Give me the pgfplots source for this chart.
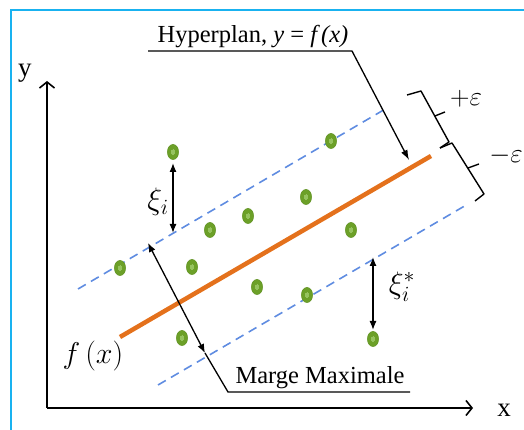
\RequirePackage{fix-cm}
\documentclass[border=0pt]{standalone}
\usepackage{fontspec}
\setmainfont{Liberation Serif}
\usepackage{pgfplots}
\pgfplotsset{compat=1.18}
\usetikzlibrary{arrows.meta}
\definecolor{frameblue}{RGB}{25,178,240}
\definecolor{dashblue}{RGB}{95,140,225}
\definecolor{hypor}{RGB}{228,113,28}
\definecolor{ptgreen}{RGB}{108,160,40}
\definecolor{ptedge}{RGB}{96,146,34}
\definecolor{ptlight}{RGB}{150,195,95}
\begin{document}
\begin{tikzpicture}
\begin{axis}[
  x=1pt, y=1pt,
  xmin=47, xmax=473, ymin=22, ymax=349,
  axis lines=left,
  axis line style={line width=1.6pt, -{Straight Barb[length=6pt,width=15pt,line width=1.6pt]}},
  xtick=\empty, ytick=\empty,
  clip=false,
]
\coordinate (bl) at (axis cs:0,0);
\coordinate (tr) at (axis cs:524,430);
% frame
\draw[frameblue, line width=2pt] (axis cs:11,-10) -- (axis cs:11,420) -- (axis cs:540,420);
% axis labels
\node[font=\fontsize{27}{29}\selectfont] at (axis cs:25,357) {y};
\node[font=\fontsize{27}{29}\selectfont] at (axis cs:504,20) {x};
% margin lines
\addplot[dashblue, line width=1.6pt, dash pattern=on 9pt off 6pt] coordinates {(78,141) (387,322)};
\addplot[dashblue, line width=1.6pt, dash pattern=on 9pt off 6pt] coordinates {(158,45) (468,226)};
% hyperplane
\addplot[hypor, line width=4.5pt] coordinates {(120,93) (431,274)};
% points
\addplot[only marks, color=ptgreen, mark=*, mark size=5.6pt, mark options={yscale=1.35, fill=ptgreen, draw=ptedge, line width=0.5pt}] coordinates {
(173,278) (331,289) (306,233) (248,214) (210,200) (351,200)
(120,162) (192,163) (257,143) (307,135) (182,92) (373,91)};
\addplot[only marks, color=ptlight, mark=*, mark size=1.6pt, mark options={yscale=1.5, fill=ptlight, draw=ptlight, line width=0pt}] coordinates {
(173,278) (331,289) (306,233) (248,214) (210,200) (351,200)
(120,162) (192,163) (257,143) (307,135) (182,92) (373,91)};
% xi_i arrow
\draw[line width=1.3pt, {Latex[length=9pt,width=7pt]}-{Latex[length=9pt,width=7pt]}] (axis cs:173,267) -- (axis cs:173,197);
\node[font=\fontsize{31}{33}\selectfont] at (axis cs:158,228) {$\xi_i$};
% xi_i^* arrow
\draw[line width=1.3pt, {Latex[length=9pt,width=7pt]}-{Latex[length=9pt,width=7pt]}] (axis cs:373,173) -- (axis cs:373,100);
\node[font=\fontsize{31}{33}\selectfont] at (axis cs:402,143) {$\xi_i^*$};
% marge maximale
\draw[line width=1.3pt, {Latex[length=9pt,width=7pt]}-{Latex[length=9pt,width=7pt]}] (axis cs:148,187) -- (axis cs:205,77);
\draw[line width=1.3pt] (axis cs:205,77) -- (axis cs:228,38) -- (axis cs:410,38);
\node[anchor=south, font=\fontsize{24.5}{26}\selectfont, inner sep=1pt] at (axis cs:320,40) {Marge Maximale};
% hyperplan label
\node[anchor=south, font=\fontsize{24.5}{26}\selectfont, inner sep=1pt] at (axis cs:253,381) {Hyperplan, \textit{y} = \textit{f\,(x)}};
\draw[line width=1.3pt, -{Latex[length=10pt,width=7pt]}] (axis cs:148,379) -- (axis cs:352,379) -- (axis cs:409,270);
% f(x)
\node[font=\fontsize{30}{32}\selectfont] at (axis cs:93,74) {$f\,(x)$};
% brackets
\draw[line width=1.4pt, line join=round] (axis cs:407,335) -- (axis cs:421,339) -- (axis cs:449,288) -- (axis cs:440,282);
\draw[line width=1.4pt] (axis cs:435,314) -- (axis cs:445,318);
\draw[line width=1.4pt, line join=round] (axis cs:440,282) -- (axis cs:452,287) -- (axis cs:484,236) -- (axis cs:475,229);
\draw[line width=1.4pt] (axis cs:468,262) -- (axis cs:479,266);
\node[font=\fontsize{27}{29}\selectfont] at (axis cs:466,331) {$+\varepsilon$};
\node[font=\fontsize{27}{29}\selectfont] at (axis cs:506,274) {$-\varepsilon$};
\end{axis}
\pgfresetboundingbox
\path[use as bounding box] (bl) rectangle (tr);
\end{tikzpicture}
\end{document}
